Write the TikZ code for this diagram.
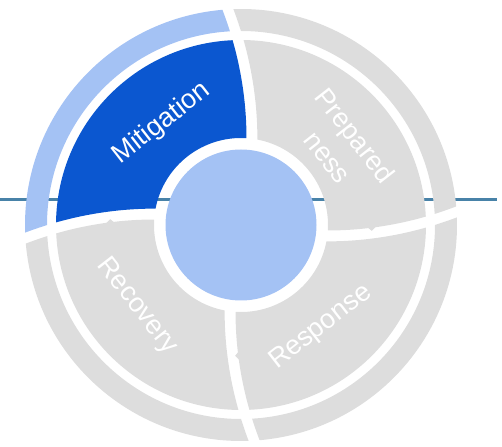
\documentclass[tikz,border=0pt]{standalone}
\usepackage{fontspec}
\setmainfont{Liberation Sans}
\definecolor{segdark}{HTML}{0B57D0}
\definecolor{seglight}{HTML}{A4C2F4}
\definecolor{seggray}{HTML}{DDDDDD}
\definecolor{hlinec}{RGB}{72,130,168}
% segment between curved divider at base #1 and base #1+90, radii #2..#3
\newcommand\ringseg[4]{%
  \fill[#4] plot[domain=#2:#3,samples=30,variable=\q]
      ({\q*cos(#1+0.083*\q-14.45+315/\q)},{\q*sin(#1+0.083*\q-14.45+315/\q)})
    arc[start angle={#1+0.083*#3-14.45+315/#3}, end angle={#1+90+0.083*#3-14.45-315/#3}, radius=#3pt]
    -- plot[domain=#3:#2,samples=30,variable=\q]
      ({\q*cos(#1+90+0.083*\q-14.45-315/\q)},{\q*sin(#1+90+0.083*\q-14.45-315/\q)})
    arc[start angle={#1+90+0.083*#2-14.45-315/#2}, end angle={#1+0.083*#2-14.45+315/#2}, radius=#2pt]
    -- cycle;}
% small tip on the start edge of a segment
\newcommand\segtip[2]{%
  \fill[#2] ({#1+0.083*126-14.45+315/126+0.6}:126pt) -- ({#1+0.083*131-14.45+315/131-1.4}:131pt)
    -- ({#1+0.083*136-14.45+315/136+0.6}:136pt) -- cycle;}
\begin{document}
\begin{tikzpicture}[x=1pt,y=1pt,
  lbl/.style={text=white, font=\fontsize{27}{35}\selectfont, inner sep=0pt},
  hline/.style={draw=hlinec, line width=3pt}]
\useasboundingbox (-241,-221) rectangle (261,225);
% horizontal line behind the wheel
\coordinate (L) at (-241,25);
\coordinate (R) at (256,25);
\draw[hline] (L) -- (R);
% inner band
\ringseg{0}{87}{185}{seggray}
\ringseg{90}{87}{185}{segdark}
\ringseg{180}{87}{185}{seggray}
\ringseg{270}{87}{185}{seggray}
% outer band
\ringseg{0}{194}{216}{seggray}
\ringseg{90}{194}{216}{seglight}
\ringseg{180}{194}{216}{seggray}
\ringseg{270}{194}{216}{seggray}
% small tips
\segtip{0}{seggray}
\segtip{180}{seggray}
\segtip{270}{seggray}
% centre
\node[circle, fill=seglight, minimum size=151pt, inner sep=0pt] (hub) at (0,0) {};
% labels
\node[lbl, rotate=38] (mit) at (128:129pt) {Mitigation};
\node[lbl, rotate=-52, align=center] (prep) at (38:128pt) {Prepared\\ness};
\node[lbl, rotate=-52] (rec) at (218:132pt) {Recovery};
\node[lbl, rotate=38] (resp) at (308:130pt) {Response};
\end{tikzpicture}
\end{document}
